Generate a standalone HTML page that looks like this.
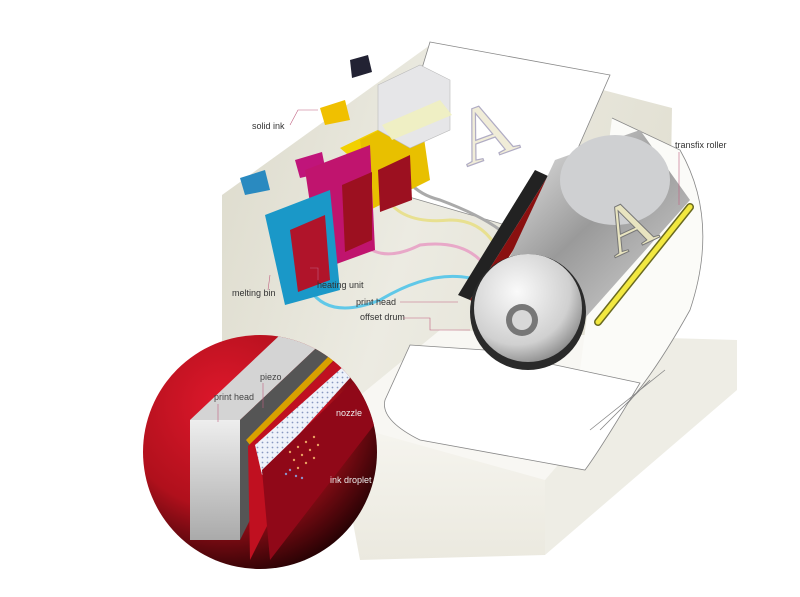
<!DOCTYPE html>
<html><head><meta charset="utf-8"><style>
html,body{margin:0;padding:0;background:#fff;}
svg{display:block;}
text{font-family:"Liberation Sans",sans-serif;font-size:9px;fill:#333;}
</style></head><body>
<svg width="800" height="597" viewBox="0 0 800 597" xmlns="http://www.w3.org/2000/svg">
<defs>
<linearGradient id="beige" x1="0" y1="0" x2="1" y2="0.3">
<stop offset="0" stop-color="#dcdacb"/><stop offset="0.5" stop-color="#ecebe2"/><stop offset="1" stop-color="#e2e0d3"/></linearGradient>
<linearGradient id="front" x1="0" y1="0" x2="0" y2="1">
<stop offset="0" stop-color="#f8f7f2"/><stop offset="1" stop-color="#ebe9df"/></linearGradient>
<radialGradient id="red" cx="0.35" cy="0.3" r="0.8">
<stop offset="0" stop-color="#e0182c"/><stop offset="0.55" stop-color="#b0101c"/><stop offset="1" stop-color="#100000"/></radialGradient>
<linearGradient id="drum" x1="0" y1="0" x2="1" y2="1">
<stop offset="0" stop-color="#f4f4f4"/><stop offset="0.5" stop-color="#9a9a9a"/><stop offset="1" stop-color="#d8d8d8"/></linearGradient>
<linearGradient id="phw" x1="0" y1="0" x2="0" y2="1">
<stop offset="0" stop-color="#eee"/><stop offset="1" stop-color="#aaa"/></linearGradient>
<radialGradient id="disk" cx="0.4" cy="0.35" r="0.7">
<stop offset="0" stop-color="#fafafa"/><stop offset="0.7" stop-color="#d0d0d0"/><stop offset="1" stop-color="#888"/></radialGradient>
<clipPath id="circ"><circle cx="260" cy="452" r="117"/></clipPath>
<pattern id="dots" width="5" height="5" patternUnits="userSpaceOnUse"><rect width="5" height="5" fill="#eef2fa"/><circle cx="2.5" cy="2.5" r="0.9" fill="#8a9ac0"/></pattern>
</defs>

<polygon points="222,195 430,45 672,108 668,340 545,480 330,420 222,345" fill="url(#beige)"/>
<polygon points="668,338 737,340 737,390 545,555 545,480" fill="#eeede5"/>
<polygon points="330,400 545,480 545,555 360,560" fill="url(#front)"/>
<polygon points="440,330 668,338 545,480 330,420" fill="#f8f7f3"/>

<polygon points="430,42 610,75 540,235 385,190" fill="#fff" stroke="#888" stroke-width="0.8"/>
<path d="M612,118 L680,150 Q720,220 690,310 Q640,400 600,430 L575,410" fill="#fbfbf8" stroke="#888" stroke-width="0.8"/>
<path d="M410,345 L485,350 L640,383 Q600,450 585,470 L420,440 Q380,420 385,400 Z" fill="#fff" stroke="#888" stroke-width="0.8"/>
<path d="M600,430 L650,380 M590,430 L665,370" stroke="#888" stroke-width="0.8" fill="none"/>

<text x="455" y="160" style="font-family:'Liberation Serif',serif;font-size:80px;fill:#f0ecd8;stroke:#b0acc4;stroke-width:1.2" transform="rotate(-20 480 130)">A</text>

<path d="M398,150 Q400,190 440,200 Q480,215 500,230" stroke="#aaa" stroke-width="3" fill="none"/>
<path d="M385,195 Q400,225 450,220 Q480,220 495,245" stroke="#e8e090" stroke-width="3" fill="none"/>
<path d="M360,240 Q380,265 420,245 Q460,240 480,260" stroke="#e8a8c8" stroke-width="3" fill="none"/>
<path d="M310,290 Q330,320 380,300 Q430,270 470,278" stroke="#60c8e8" stroke-width="3" fill="none"/>

<polygon points="350,60 368,55 372,72 352,78" fill="#223"/>
<polygon points="320,108 345,100 350,120 325,125" fill="#f0c000"/>
<polygon points="295,160 322,152 326,172 300,178" fill="#c0147a"/>
<polygon points="240,178 265,170 270,190 245,195" fill="#2a8ac0"/>

<polygon points="340,148 440,100 450,115 360,165" fill="#f2d000"/>
<polygon points="360,140 420,110 430,180 370,210" fill="#e8c000"/>
<polygon points="305,170 370,145 375,250 320,270" fill="#c0146e"/>
<polygon points="265,215 330,190 340,290 285,305" fill="#1a98c8"/>
<polygon points="290,230 325,215 330,280 298,292" fill="#b0142a"/>
<polygon points="342,185 372,172 372,240 345,252" fill="#9c1020"/>
<polygon points="378,170 410,155 412,200 380,212" fill="#9c1020"/>
<polygon points="378,85 420,65 450,80 450,130 410,148 378,130" fill="#e6e6e8" stroke="#bbb" stroke-width="0.6"/>
<polygon points="382,125 440,100 452,115 392,140" fill="#f0f0c0" opacity="0.9"/>

<polygon points="535,170 548,176 470,300 458,295" fill="#222"/>
<polygon points="548,176 555,185 478,305 470,300" fill="#8a1010"/>

<polygon points="555,160 640,130 690,200 585,318 490,300" fill="url(#drum)"/>
<ellipse cx="615" cy="180" rx="55" ry="45" fill="#cfd0d2"/>
<circle cx="528" cy="312" r="58" fill="#2a2a2a"/>
<circle cx="528" cy="308" r="54" fill="url(#disk)"/>
<circle cx="522" cy="320" r="16" fill="#777"/>
<circle cx="522" cy="320" r="10" fill="#d8d8d8"/>
<text x="600" y="248" style="font-family:'Liberation Serif',serif;font-size:70px;fill:#e8e4c0;stroke:#777;stroke-width:1" transform="rotate(-25 630 220)">A</text>
<line x1="690" y1="207" x2="598" y2="322" stroke="#6a6a20" stroke-width="8" stroke-linecap="round"/>
<line x1="690" y1="207" x2="598" y2="322" stroke="#f2e840" stroke-width="5" stroke-linecap="round"/>

<text x="252" y="129">solid ink</text>
<polyline points="290,125 298,110 318,110" stroke="#c06080" fill="none" stroke-width="0.6"/>
<text x="232" y="296">melting bin</text>
<polyline points="268,290 270,275" stroke="#c06080" fill="none" stroke-width="0.6"/>
<text x="317" y="288">heating unit</text>
<polyline points="318,280 318,268 310,268" stroke="#c06080" fill="none" stroke-width="0.6"/>
<text x="356" y="305">print head</text>
<line x1="400" y1="302" x2="458" y2="302" stroke="#c06080" stroke-width="0.6"/>
<text x="360" y="320">offset drum</text>
<polyline points="403,318 430,318 430,330 470,330" stroke="#c06080" fill="none" stroke-width="0.6"/>
<text x="675" y="148">transfix roller</text>
<polyline points="679,152 679,205" stroke="#c06080" fill="none" stroke-width="0.6"/>

<circle cx="260" cy="452" r="117" fill="url(#red)"/>
<g clip-path="url(#circ)">
<polygon points="190,420 240,420 330,335 280,335" fill="#d4d4d4"/>
<polygon points="190,420 240,420 240,540 190,540" fill="url(#phw)"/>
<polygon points="240,420 330,335 330,360 240,540" fill="#555"/>
<polygon points="246,440 330,355 334,360 250,445" fill="#d8a000"/>
<polygon points="248,446 335,360 345,370 250,560" fill="#c01020"/>
<polygon points="255,445 345,365 350,378 262,475" fill="url(#dots)"/>
<polygon points="262,470 360,375 378,420 270,560" fill="#900818"/>
<g fill="#e8a060">
<circle cx="290" cy="452" r="1.2"/><circle cx="298" cy="447" r="1.2"/><circle cx="306" cy="442" r="1.2"/><circle cx="314" cy="437" r="1.2"/><circle cx="294" cy="460" r="1.2"/><circle cx="302" cy="455" r="1.2"/><circle cx="310" cy="450" r="1.2"/><circle cx="318" cy="445" r="1.2"/><circle cx="298" cy="468" r="1.2"/><circle cx="306" cy="463" r="1.2"/><circle cx="314" cy="458" r="1.2"/>
</g>
<g fill="#8a90c8"><circle cx="290" cy="470" r="1.2"/><circle cx="296" cy="476" r="1.2"/><circle cx="302" cy="478" r="1.2"/><circle cx="286" cy="474" r="1.2"/></g>
</g>
<text x="214" y="400" style="fill:#444">print head</text>
<line x1="218" y1="404" x2="218" y2="422" stroke="#c06080" stroke-width="0.6"/>
<text x="260" y="380" style="fill:#444">piezo</text>
<line x1="263" y1="383" x2="263" y2="408" stroke="#c06080" stroke-width="0.6"/>
<text x="336" y="416" style="fill:#eee">nozzle</text>
<text x="330" y="483" style="fill:#eee">ink droplet</text>
</svg>
</body></html>
